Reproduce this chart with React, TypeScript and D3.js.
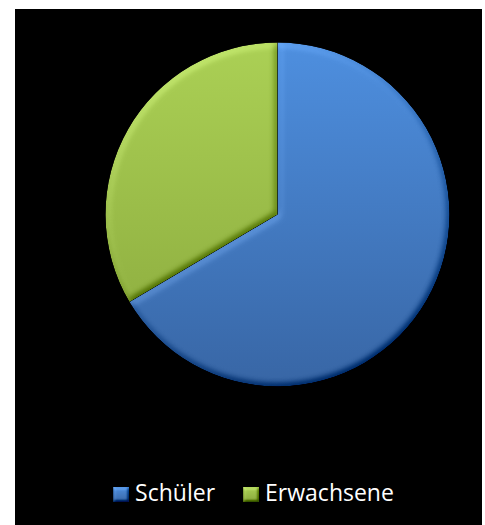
import React, { useEffect, useRef } from "react";
import * as d3 from "d3";

const categories = ["Schüler", "Erwachsene"];
const values = [66.5, 33.5];
const colorsTop = ["#4e8fdf", "#abd055"];
const colorsBottom = ["#3866a5", "#89a83c"];

const W = 485;
const H = 525;

export default function App() {
  const ref = useRef<SVGSVGElement | null>(null);

  useEffect(() => {
    const svg = d3.select(ref.current);
    svg.selectAll("*").remove();

    const cx = 277.5;
    const cy = 214.5;
    const r = 172;

    const defs = svg.append("defs");
    categories.forEach((c, i) => {
      const g = defs
        .append("linearGradient")
        .attr("id", "grad" + i)
        .attr("gradientUnits", "userSpaceOnUse")
        .attr("x1", 0)
        .attr("y1", -r)
        .attr("x2", 0)
        .attr("y2", r);
      g.append("stop").attr("offset", "0%").attr("stop-color", colorsTop[i]);
      g.append("stop").attr("offset", "100%").attr("stop-color", colorsBottom[i]);
      const lg = defs
        .append("linearGradient")
        .attr("id", "lgrad" + i)
        .attr("x1", 0)
        .attr("y1", 0)
        .attr("x2", 0)
        .attr("y2", 1);
      lg.append("stop").attr("offset", "0%").attr("stop-color", colorsTop[i]);
      lg.append("stop").attr("offset", "100%").attr("stop-color", colorsBottom[i]);
    });

    const mkBevel = (id: string, sd: number, scale: number, kUp: number) => {
      const f = defs
        .append("filter")
        .attr("id", id)
        .attr("x", "-5%")
        .attr("y", "-5%")
        .attr("width", "110%")
        .attr("height", "110%")
        .attr("color-interpolation-filters", "sRGB");
      f.append("feGaussianBlur")
        .attr("in", "SourceAlpha")
        .attr("stdDeviation", sd)
        .attr("result", "blur");
      const dl = f
        .append("feDiffuseLighting")
        .attr("in", "blur")
        .attr("surfaceScale", scale)
        .attr("diffuseConstant", 1)
        .attr("lighting-color", "#ffffff")
        .attr("result", "light");
      dl.append("feDistantLight").attr("azimuth", 235).attr("elevation", 55);
      f.append("feComposite")
        .attr("in", "SourceGraphic")
        .attr("in2", "light")
        .attr("operator", "arithmetic")
        .attr("k1", 0)
        .attr("k2", 1)
        .attr("k3", kUp)
        .attr("k4", -kUp * Math.sin((55 * Math.PI) / 180))
        .attr("result", "lit");
      f.append("feComposite")
        .attr("in", "lit")
        .attr("in2", "SourceAlpha")
        .attr("operator", "in");
    };
    mkBevel("bevel", 3.5, 3.5, 0.45);
    mkBevel("bevelSmall", 1.5, 2.5, 0.5);

    svg
      .append("rect")
      .attr("x", 15)
      .attr("y", 9)
      .attr("width", 467)
      .attr("height", H - 9)
      .attr("fill", "#000000");

    const pie = d3
      .pie<number>()
      .sort(null)
      .value((d) => d);
    const arcs = pie(values);
    const arc = d3.arc<d3.PieArcDatum<number>>().innerRadius(0).outerRadius(r);

    const g = svg.append("g").attr("transform", `translate(${cx},${cy})`);
    g.selectAll("path")
      .data(arcs)
      .enter()
      .append("path")
      .attr("d", (d) => arc(d) as string)
      .attr("fill", (_d, i) => `url(#grad${i})`)
      .attr("filter", "url(#bevel)");

    // Legend
    const legend = svg
      .append("g")
      .attr("font-family", "'Open Sans', sans-serif")
      .attr("font-size", 23);
    const items = legend.selectAll("g").data(categories).enter().append("g");
    items
      .append("rect")
      .attr("x", 0)
      .attr("y", -14)
      .attr("width", 16)
      .attr("height", 15)
      .attr("fill", (_d, i) => `url(#lgrad${i})`)
      .attr("filter", "url(#bevelSmall)");
    items
      .append("text")
      .attr("x", 22)
      .attr("y", 0)
      .attr("fill", "#ffffff")
      .text((d) => d);
    const widths: number[] = [];
    items.each(function () {
      const t = d3.select(this).select("text").node() as SVGTextElement;
      widths.push(22 + t.getComputedTextLength());
    });
    const gap = 28;
    const total = d3.sum(widths) + gap * (widths.length - 1);
    const legendCx = 253.5;
    let x0 = legendCx - total / 2;
    items.attr("transform", (_d, i) => {
      const x = x0;
      x0 += widths[i] + gap;
      return `translate(${x},501)`;
    });
  }, []);

  return (
    <svg
      ref={ref}
      width={W}
      height={H}
      style={{ position: "absolute", left: 0, top: 0, display: "block" }}
    />
  );
}
